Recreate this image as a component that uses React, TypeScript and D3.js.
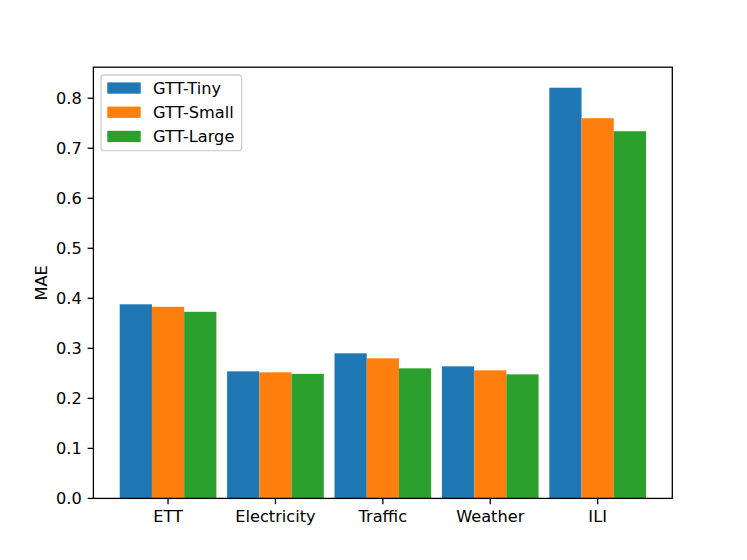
import React from "react";
import * as d3 from "d3";

const categories = ["ETT", "Electricity", "Traffic", "Weather", "ILI"];
const seriesNames = ["GTT-Tiny", "GTT-Small", "GTT-Large"];
const tinyValues = [0.388, 0.254, 0.290, 0.264, 0.821];
const smallValues = [0.383, 0.252, 0.280, 0.256, 0.760];
const largeValues = [0.373, 0.249, 0.260, 0.248, 0.734];
const colors = ["#1f77b4", "#ff7f0e", "#2ca02c"];
const yTicks = [0.0, 0.1, 0.2, 0.3, 0.4, 0.5, 0.6, 0.7, 0.8];

const W = 747, H = 560;
const L = 93.4, R = 672.3, T = 67.2, B = 498.4;
const FS = 16.2;
const font = "DejaVu Sans, sans-serif";

export default function App() {
  const series = [tinyValues, smallValues, largeValues];
  const barW = 0.3;
  const x = d3.scaleLinear().domain([-0.695, 4.695]).range([L, R]);
  const y = d3.scaleLinear().domain([0, 0.862]).range([B, T]);
  const tickLen = 5.8;
  return (
    <svg width={W} height={H} style={{ position: "absolute", left: 0, top: 0 }}>
      <rect width={W} height={H} fill="#fff" />
      {series.map((vals, s) =>
        vals.map((v, i) => {
          const cx = i + (s - 1) * barW;
          const x0 = x(cx - barW / 2);
          const x1 = x(cx + barW / 2);
          return (
            <rect key={`${s}-${i}`} x={x0} y={y(v)} width={x1 - x0} height={y(0) - y(v)} fill={colors[s]} />
          );
        })
      )}
      <rect x={L} y={T} width={R - L} height={B - T} fill="none" stroke="#000" strokeWidth={1.3} />
      {yTicks.map((t) => (
        <g key={t}>
          <line x1={L - tickLen} x2={L} y1={y(t)} y2={y(t)} stroke="#000" strokeWidth={1.3} />
          <text x={L - tickLen - 5.8} y={y(t)} dy="0.36em" textAnchor="end" fontFamily={font} fontSize={FS}>
            {t.toFixed(1)}
          </text>
        </g>
      ))}
      {categories.map((c, i) => (
        <g key={c}>
          <line x1={x(i)} x2={x(i)} y1={B} y2={B + tickLen} stroke="#000" strokeWidth={1.3} />
          <text x={x(i)} y={B + tickLen + 5.8 + 11.9} textAnchor="middle" fontFamily={font} fontSize={FS}>
            {c}
          </text>
        </g>
      ))}
      <text
        transform={`translate(${46.5},${(T + B) / 2}) rotate(-90)`}
        textAnchor="middle"
        fontFamily={font}
        fontSize={FS}
      >
        MAE
      </text>
      <g>
        <rect x={101} y={75} width={140.7} height={75.7} rx={3} fill="#fff" fillOpacity={0.8} stroke="#d0d0d0" strokeWidth={1.3} />
        {seriesNames.map((n, k) => {
          const cy = 88 + k * 24.2;
          return (
            <g key={n}>
              <rect x={107.3} y={cy - 5.6} width={33.4} height={11.3} fill={colors[k]} />
              <text x={153} y={cy} dy="0.36em" fontFamily={font} fontSize={FS}>
                {n}
              </text>
            </g>
          );
        })}
      </g>
    </svg>
  );
}
